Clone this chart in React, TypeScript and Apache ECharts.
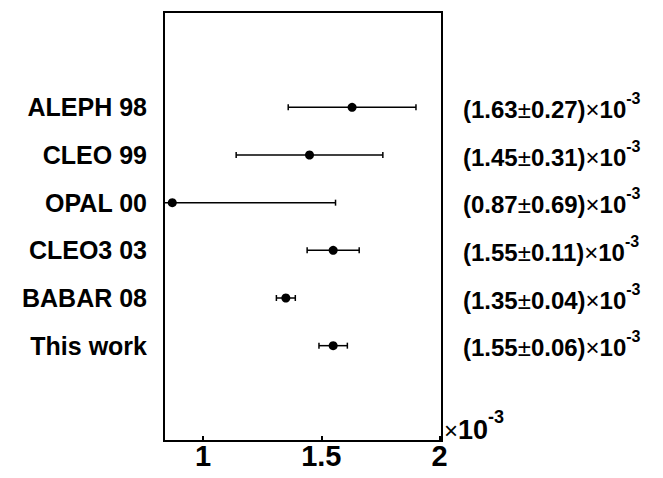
import React, { useEffect, useRef } from "react";
import * as echarts from "echarts";

const experiments = ["ALEPH 98", "CLEO 99", "OPAL 00", "CLEO3 03", "BABAR 08", "This work"];
const centralValues = [1.63, 1.45, 0.87, 1.55, 1.35, 1.55];
const errors = [0.27, 0.31, 0.69, 0.11, 0.04, 0.06];
const rowPositions = [1, 2, 3, 4, 5, 6];
const xTickValues = [1, 1.5, 2];
const xTickLabels = ["1", "1.5", "2"];

const FONT = "'Liberation Sans', Arial, Helvetica, sans-serif";

export default function App() {
  const ref = useRef<HTMLDivElement>(null);
  useEffect(() => {
    document.body.style.margin = "0";
    const chart = echarts.init(ref.current!, undefined, { renderer: "svg" });
    const barData = centralValues.map((v, i) => [v - errors[i], v + errors[i], rowPositions[i]]);
    const pointData = centralValues.map((v, i) => [v, rowPositions[i]]);
    chart.setOption({
      animation: false,
      backgroundColor: "#fff",
      grid: {
        left: 164,
        right: 221,
        top: 12,
        bottom: 37,
        show: true,
        borderColor: "#000",
        borderWidth: 2,
        backgroundColor: "transparent",
      },
      xAxis: {
        type: "value",
        min: 0.835,
        max: 2.01,
        axisLine: { show: true, onZero: false, lineStyle: { color: "#000", width: 2 } },
        axisTick: {
          show: true,
          inside: true,
          length: 5,
          customValues: xTickValues,
          lineStyle: { color: "#000", width: 2 },
        },
        axisLabel: {
          customValues: xTickValues,
          formatter: (v: number) => xTickLabels[xTickValues.indexOf(v)] ?? "",
          fontFamily: FONT,
          fontWeight: "bold",
          fontSize: 29,
          color: "#000",
          margin: 0,
        },
        splitLine: { show: false },
      },
      yAxis: [
        {
          type: "value",
          min: -1,
          max: 8,
          inverse: true,
          position: "left",
          axisLine: { show: false, onZero: false },
          axisTick: { show: false },
          splitLine: { show: false },
          axisLabel: {
            customValues: rowPositions,
            formatter: (v: number) => experiments[rowPositions.indexOf(v)] ?? "",
            fontFamily: FONT,
            fontWeight: "bold",
            fontSize: 25,
            color: "#000",
            margin: 17,
            padding: [6, 0, 0, 0],
          },
        },
        {
          type: "value",
          min: -1,
          max: 8,
          inverse: true,
          position: "right",
          axisLine: { show: false, onZero: false },
          axisTick: { show: false },
          splitLine: { show: false },
          axisLabel: {
            customValues: rowPositions,
            formatter: (v: number) => {
              const i = rowPositions.indexOf(v);
              if (i < 0) return "";
              return `{n|(${centralValues[i].toFixed(2)}}{s|±}{n|${errors[i].toFixed(2)})}{s|×}{n|10}{sup|-3}`;
            },
            margin: 21,
            padding: [4, 0, 0, 0],
            rich: {
              n: { fontFamily: FONT, fontWeight: "bold", fontSize: 24, color: "#000", lineHeight: 38 },
              s: { fontFamily: FONT, fontWeight: "normal", fontSize: 24, color: "#000", lineHeight: 38 },
              sup: { fontFamily: FONT, fontWeight: "bold", fontSize: 16, color: "#000", lineHeight: 17, verticalAlign: "top" },
            },
          },
        },
      ],
      graphic: [
        {
          type: "text",
          left: 444,
          top: 408,
          style: {
            text: "{s|×}{n|10}{sup|-3}",
            rich: {
              s: { fontFamily: FONT, fontWeight: "normal", fontSize: 24, fill: "#000", lineHeight: 44 },
              n: { fontFamily: FONT, fontWeight: "bold", fontSize: 27, fill: "#000", lineHeight: 44 },
              sup: { fontFamily: FONT, fontWeight: "bold", fontSize: 18, fill: "#000", lineHeight: 18, verticalAlign: "top" },
            },
          },
        },
      ],
      series: [
        {
          type: "custom",
          clip: true,
          data: barData,
          renderItem: (params: any, api: any) => {
            const y = api.value(2);
            const p1 = api.coord([api.value(0), y]);
            const p2 = api.coord([api.value(1), y]);
            const h = 3;
            const st = { stroke: "#000", lineWidth: 1.5 };
            return {
              type: "group",
              children: [
                { type: "line", shape: { x1: p1[0], y1: p1[1], x2: p2[0], y2: p2[1] }, style: st },
                { type: "line", shape: { x1: p1[0], y1: p1[1] - h, x2: p1[0], y2: p1[1] + h }, style: st },
                { type: "line", shape: { x1: p2[0], y1: p2[1] - h, x2: p2[0], y2: p2[1] + h }, style: st },
              ],
            };
          },
          z: 2,
        },
        {
          type: "scatter",
          data: pointData,
          symbol: "circle",
          symbolSize: 9,
          itemStyle: { color: "#000", opacity: 1 },
          z: 3,
        },
      ],
    });
    return () => chart.dispose();
  }, []);
  return <div ref={ref} style={{ width: 663, height: 478 }} />;
}
